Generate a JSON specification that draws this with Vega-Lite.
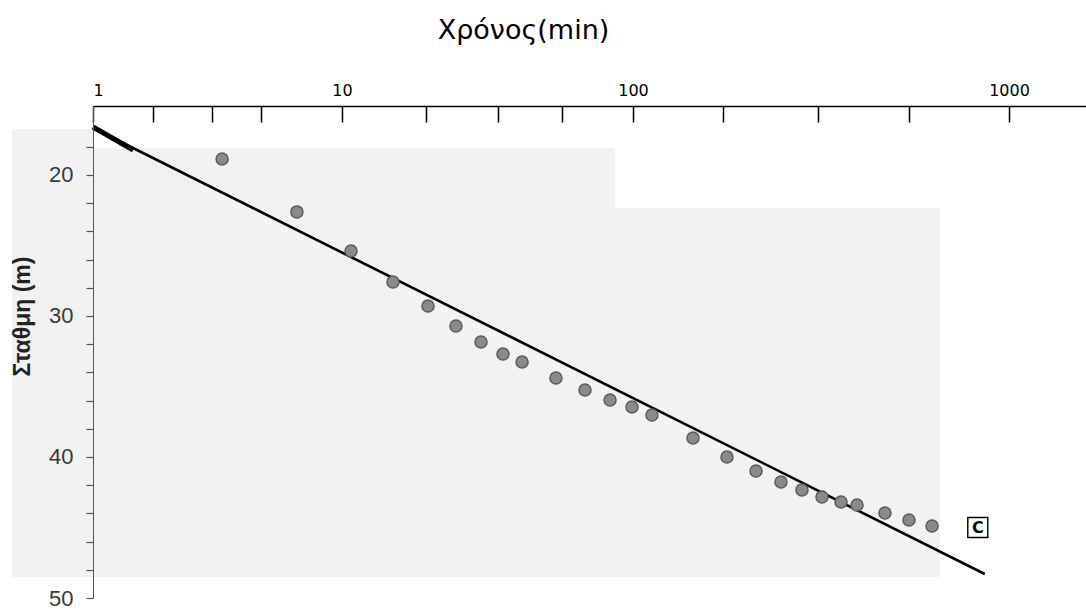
{
  "$schema": "https://vega.github.io/schema/vega-lite/v6.json",
  "width": 993,
  "height": 492,
  "autosize": "none",
  "padding": {"left": 93, "top": 106, "right": 0, "bottom": 14},
  "background": "white",
  "config": {"view": {"stroke": null}},
  "datasets": {
    "paper": [
      {"t0": 0.473, "t1": 1, "s0": 16.74, "s1": 48.51},
      {"t0": 1, "t1": 86.7, "s0": 18.09, "s1": 48.51},
      {"t0": 86.7, "t1": 655, "s0": 22.34, "s1": 48.51}
    ],
    "fit": [
      {"t": 1, "s": 16.67},
      {"t": 862, "s": 48.3}
    ],
    "fitStart": [
      {"t": 1, "s": 16.6},
      {"t": 1.45, "s": 18.23}
    ],
    "obs": [
      {"t": 3.30, "s": 18.87},
      {"t": 6.59, "s": 22.62},
      {"t": 10.74, "s": 25.39},
      {"t": 14.97, "s": 27.59},
      {"t": 19.75, "s": 29.29},
      {"t": 24.64, "s": 30.71},
      {"t": 30.04, "s": 31.84},
      {"t": 35.74, "s": 32.70},
      {"t": 41.57, "s": 33.26},
      {"t": 54.35, "s": 34.40},
      {"t": 68.4, "s": 35.25},
      {"t": 83.4, "s": 35.96},
      {"t": 99.2, "s": 36.45},
      {"t": 112.3, "s": 37.02},
      {"t": 144.4, "s": 38.65},
      {"t": 177.8, "s": 40.0},
      {"t": 212.4, "s": 40.99},
      {"t": 247.5, "s": 41.77},
      {"t": 281.4, "s": 42.34},
      {"t": 318.2, "s": 42.84},
      {"t": 357.5, "s": 43.19},
      {"t": 394.3, "s": 43.40},
      {"t": 467.9, "s": 43.97},
      {"t": 542.0, "s": 44.47},
      {"t": 624.3, "s": 44.89}
    ],
    "mark": [
      {"label": "C", "t": 826, "s": 45.0}
    ]
  },
  "layer": [
    {
      "data": {"name": "paper"},
      "mark": {"type": "rect", "color": "#f2f2f2"},
      "encoding": {
        "x": {
          "field": "t0", "type": "quantitative",
          "scale": {"type": "log", "domain": [1, 10, 100, 1000, 1603], "range": [0, 249, 540, 916, 993], "nice": false},
          "axis": {
            "orient": "top",
            "zindex": 1,
            "title": "Χρόνος(min)",
            "titleFont": "DejaVu Sans",
            "titleFontSize": 27,
            "titleFontWeight": "normal",
            "titleColor": "#000000",
            "titleX": 430,
            "titleY": -76,
            "titleBaseline": "middle",
            "titleAlign": "center",
            "values": [1, 1.74, 3.01, 4.73, 10, 19.4, 34.4, 57, 100, 173.5, 310.5, 542, 1000],
            "tickCount": 50,
            "labelExpr": "indexof([1, 10, 100, 1000], datum.value) >= 0 ? format(datum.value, 'd') : ''",
            "labelFont": "DejaVu Sans",
            "labelFontSize": 16,
            "labelColor": "#000000",
            "labelFlush": true,
            "labelPadding": 24,
            "labelOverlap": false,
            "grid": false,
            "domainColor": "#000000",
            "domainWidth": 1.5,
            "tickColor": "#000000",
            "tickWidth": 1.5,
            "tickSize": -16
          }
        },
        "x2": {"field": "t1"},
        "y": {
          "field": "s0", "type": "quantitative",
          "scale": {"domain": [15.11, 50], "reverse": true, "nice": false, "zero": false},
          "axis": {
            "orient": "left",
            "zindex": 1,
            "title": "Σταθμη (m)",
            "titleFont": "Liberation Sans",
            "titleFontSize": 23,
            "titleFontWeight": "bold",
            "titleColor": "#222222",
            "titleAngle": 270,
            "titleX": -71,
            "titleY": 210,
            "titleBaseline": "middle",
            "titleAlign": "center",
            "values": [18, 20, 22, 24, 26, 28, 30, 32, 34, 36, 38, 40, 42, 44, 46, 48, 50],
            "tickCount": 50,
            "labelExpr": "datum.value % 10 == 0 ? format(datum.value, 'd') : ''",
            "labelFont": "Liberation Sans",
            "labelFontSize": 22,
            "labelColor": "#3a3a3a",
            "labelPadding": 13,
            "labelOverlap": false,
            "grid": false,
            "domainColor": "#555555",
            "domainWidth": 1,
            "tickColor": "#555555",
            "tickWidth": 1.2,
            "tickSize": 7
          }
        },
        "y2": {"field": "s1"}
      }
    },
    {
      "data": {"name": "fit"},
      "mark": {"type": "line", "color": "#000000", "strokeWidth": 2.6},
      "encoding": {
        "x": {"field": "t", "type": "quantitative", "scale": {"type": "log", "domain": [1, 10, 100, 1000, 1603], "range": [0, 249, 540, 916, 993], "nice": false}},
        "y": {"field": "s", "type": "quantitative", "scale": {"domain": [15.11, 50], "reverse": true, "nice": false, "zero": false}}
      }
    },
    {
      "data": {"name": "fitStart"},
      "mark": {"type": "line", "color": "#000000", "strokeWidth": 5},
      "encoding": {
        "x": {"field": "t", "type": "quantitative", "scale": {"type": "log", "domain": [1, 10, 100, 1000, 1603], "range": [0, 249, 540, 916, 993], "nice": false}},
        "y": {"field": "s", "type": "quantitative", "scale": {"domain": [15.11, 50], "reverse": true, "nice": false, "zero": false}}
      }
    },
    {
      "data": {"name": "obs"},
      "mark": {"type": "point", "shape": "circle", "filled": true, "size": 145, "fill": "#8a8a8a", "stroke": "#5c5c5c", "strokeWidth": 1.5, "opacity": 1},
      "encoding": {
        "x": {"field": "t", "type": "quantitative", "scale": {"type": "log", "domain": [1, 10, 100, 1000, 1603], "range": [0, 249, 540, 916, 993], "nice": false}},
        "y": {"field": "s", "type": "quantitative", "scale": {"domain": [15.11, 50], "reverse": true, "nice": false, "zero": false}}
      }
    },
    {
      "data": {"name": "mark"},
      "mark": {"type": "point", "shape": "square", "size": 400, "filled": false, "stroke": "#000000", "strokeWidth": 1.4, "opacity": 1},
      "encoding": {
        "x": {"field": "t", "type": "quantitative", "scale": {"type": "log", "domain": [1, 10, 100, 1000, 1603], "range": [0, 249, 540, 916, 993], "nice": false}},
        "y": {"field": "s", "type": "quantitative", "scale": {"domain": [15.11, 50], "reverse": true, "nice": false, "zero": false}}
      }
    },
    {
      "data": {"name": "mark"},
      "mark": {"type": "text", "font": "DejaVu Sans", "fontSize": 16, "fontWeight": "bold", "color": "#000000", "align": "center", "baseline": "middle", "dy": 1},
      "encoding": {
        "text": {"field": "label"},
        "x": {"field": "t", "type": "quantitative", "scale": {"type": "log", "domain": [1, 10, 100, 1000, 1603], "range": [0, 249, 540, 916, 993], "nice": false}},
        "y": {"field": "s", "type": "quantitative", "scale": {"domain": [15.11, 50], "reverse": true, "nice": false, "zero": false}}
      }
    }
  ]
}
